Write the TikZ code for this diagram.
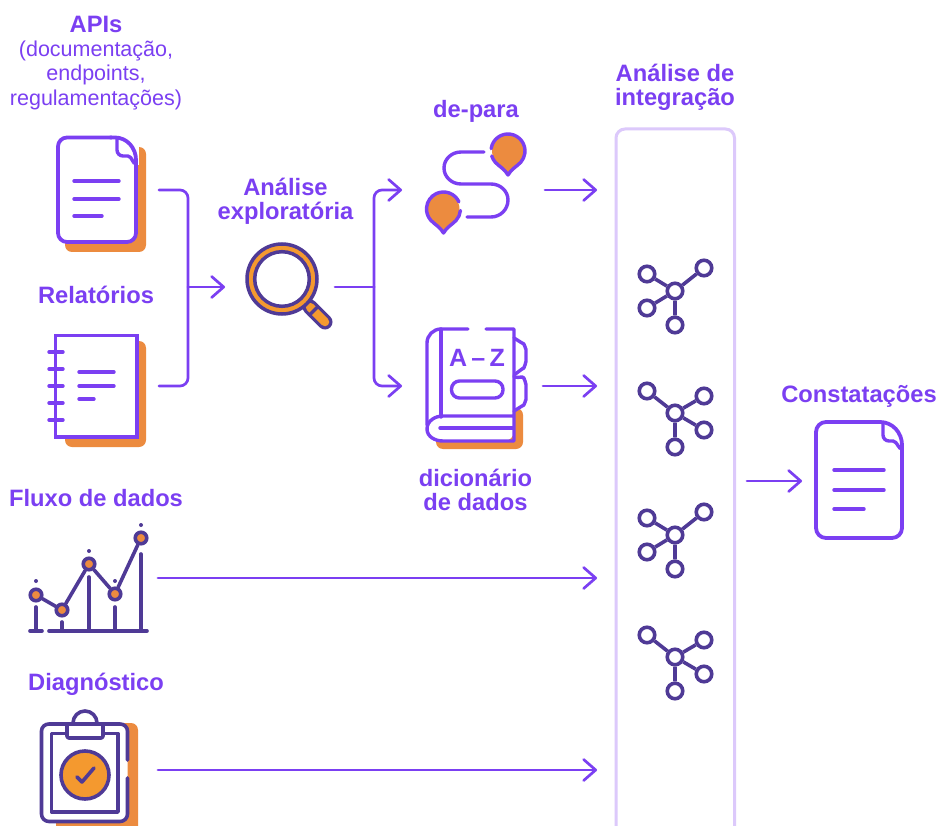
\documentclass[tikz,border=0pt]{standalone}
\usepackage{fontspec}
\setmainfont{Liberation Sans}
\usetikzlibrary{arrows.meta}
\definecolor{vio}{HTML}{7B3FF2}
\definecolor{ora}{HTML}{EC8B3F}
\definecolor{ora2}{HTML}{F4992F}
\definecolor{dark}{HTML}{4F3A96}
\definecolor{pale}{HTML}{DCC9FB}
\tikzset{
  x=1pt,y=-1pt,
  vline/.style={draw=vio,line width=3.4pt,line cap=round,line join=round},
  dline/.style={draw=dark,line width=3.6pt,line cap=round,line join=round},
  conn/.style={draw=vio,line width=2.7pt,line cap=round,line join=round,rounded corners=8pt},
  arrowc/.style={conn,-{Straight Barb[length=12pt,width=21pt,round]}},
  shadow/.style={fill=ora,rounded corners=7pt},
  head/.style={text=vio,font=\fontsize{23.7}{24}\selectfont\bfseries,align=center,inner sep=0pt},
  sub/.style={text=vio,font=\fontsize{21.5}{24.5}\selectfont,align=center,inner sep=0pt},
  netnode/.style={circle,draw=dark,line width=3.6pt,fill=white,minimum size=15.5pt,inner sep=0pt},
  netline/.style={draw=dark,line width=3.6pt},
  dot/.style={circle,fill=dark,minimum size=4pt,inner sep=0pt},
  chartpt/.style={circle,draw=dark,line width=3.6pt,fill=ora,minimum size=11.5pt,inner sep=0pt},
}
\newcommand{\netleaves}[9]{%
  \node[netnode] (#1a) at (#2+#4,#3+#5) {};
  \node[netnode] (#1b) at (#2+#6,#3+#7) {};
  \node[netnode] (#1d) at (#2+#8,#3+#9) {};
}
\newcommand{\netfinish}[3]{%
  \node[netnode] (#1e) at (#2,#3+34) {};
  \node[netnode] (#1c) at (#2,#3) {};
  \draw[netline] (#1c) -- (#1a) (#1c) -- (#1b) (#1c) -- (#1d) (#1c) -- (#1e);
}
\newcommand{\netA}[3]{\netleaves{#1}{#2}{#3}{-28}{-17}{29}{-23}{-28}{17}\netfinish{#1}{#2}{#3}}
\newcommand{\netB}[3]{\netleaves{#1}{#2}{#3}{-28}{-22}{29}{-17}{29}{17}\netfinish{#1}{#2}{#3}}
\begin{document}
\begin{tikzpicture}
\useasboundingbox (0,0) rectangle (939,826);
\fill[white] (0,0) rectangle (939,826);
\clip (0,0) rectangle (939,826);

% labels
\node[head] (lapis) at (96,24) {APIs};
\node[sub] (lapis2) at (96,75) {(documentação,\\endpoints,\\regulamentações)};
\node[head] (lrel) at (96,295) {Relatórios};
\node[head] (lana) at (285.5,201) {Análise\\exploratória};
\node[head] (ldep) at (476,111) {de-para};
\node[head] (lint) at (675,87) {Análise de\\integração};
\node[head] (ldic) at (475.5,489.5) {dicionário\\de dados};
\node[head] (lflu) at (96,498) {Fluxo de dados};
\node[head] (ldia) at (96,684) {Diagnóstico};
\node[head] (lcon) at (859,396) {Constatações};

% panel
\draw[draw=pale,line width=3pt,rounded corners=9pt] (616,832) -- (616,129) -- (734.5,129) -- (734.5,832);
\netA{na}{675}{291}
\netB{nb}{675}{413}
\netA{nc}{675}{535}
\netB{nd}{675}{657}

% APIs document
\fill[shadow] (65,147) rectangle (146,252);
\draw[vline,fill=white,line width=3.8pt,rounded corners=9pt] (58,137.5) rectangle (136,242);
\fill[white] (112,134) rectangle (139,165);
\draw[vline,line width=3.8pt] (110,137.5) -- (115,137.5) to[out=0,in=90] (136,160) -- (136,165);
\draw[vline] (117,138) -- (117,150) to[out=-90,in=180] (123,156) -- (128,156) to[out=0,in=-130] (136,163);
\draw[vline] (74,181) -- (119,181) (74,199) -- (119,199) (74,216) -- (102,216);

% Notebook
\fill[shadow] (65,341) rectangle (146,447);
\draw[vline,fill=white,line width=3.8pt,line join=miter] (55.5,335.5) rectangle (137,437);
\foreach \y in {352,369,386,403,420} \draw[vline] (49,\y) -- (63,\y);
\draw[vline] (79,372) -- (114,372) (79,386) -- (114,386) (79,399) -- (94,399);

% Chart
\node[chartpt] (c1) at (36,595) {};
\node[chartpt] (c2) at (62,610) {};
\node[chartpt] (c3) at (89,564) {};
\node[chartpt] (c4) at (115,594) {};
\node[chartpt] (c5) at (141,538) {};
\draw[netline,line cap=round] (c1) -- (c2) (c2) -- (c3) (c3) -- (c4) (c4) -- (c5);
\draw[dline] (36,607) -- (36,631) (62,622) -- (62,631) (89,577) -- (89,631) (115,607) -- (115,631) (141,554) -- (141,631);
\draw[dline] (30,631) -- (42,631) (49,631) -- (147,631);
\node[dot] (d1) at (36,581) {};
\node[dot] (d3) at (89,551) {};
\node[dot] (d4) at (115,581) {};
\node[dot] (d5) at (141,525) {};

% Clipboard
\fill[shadow] (56,723) rectangle (138,845);
\fill[white,rounded corners=7pt] (41.5,724) rectangle (127.5,821.5);
\draw[dline] (127.5,760) -- (127.5,731) to[out=90,in=0] (120,724) -- (49,724) to[out=180,in=90] (41.5,731) -- (41.5,814) to[out=-90,in=180] (49,821.5) -- (120,821.5) to[out=0,in=-90] (127.5,814) -- (127.5,778);
\draw[dline] (51.5,733.5) rectangle (118,812);
\draw[dline,line cap=butt] ([shift={(180:12pt)}]85,723) arc[start angle=180,end angle=0,radius=12pt];
\draw[dline,fill=white,rounded corners=2pt] (67,724) -- (103,724) -- (103,738) -- (67,738) -- cycle;
\draw[dline,fill=ora2] (85,775) circle[radius=24pt];
\draw[dline] (77,777) -- (82,782) -- (94,768);

% Magnifier
\draw[draw=dark,line width=15pt,line cap=round] (310,307) -- (325,322);
\draw[draw=ora2,line width=8.5pt,line cap=round] (310,307) -- (325,322);
\draw[draw=dark,line width=3.2pt] (308.5,316) -- (317,307.5);
\fill[ora2] (282,279) circle[radius=35pt];
\draw[draw=dark,line width=3.5pt] (282,279) circle[radius=35pt];
\draw[draw=dark,line width=3.5pt,fill=white] (282,279) circle[radius=27.3pt];

% de-para
\draw[vline] (484,152) -- (461,152) to[out=180,in=90] (444,168) to[out=-90,in=180] (461,184) -- (491,184) to[out=0,in=90] (508,200) to[out=-90,in=0] (491,217) -- (467,217);
\fill[ora] (508,151) circle[radius=16pt];
\fill[ora] (494,163) -- (508,175) -- (522,163) -- cycle;
\draw[vline] ([shift={(172:17pt)}]508,151) arc[start angle=172,end angle=-42,radius=17pt] to[out=-135,in=60] (508,175) to[out=120,in=-45] ([shift={(222:17pt)}]508,151) arc[start angle=222,end angle=197,radius=17pt];
\fill[ora] (443.5,209) circle[radius=16pt];
\fill[ora] (430,221) -- (443.5,233) -- (457,221) -- cycle;
\draw[vline] ([shift={(25:17pt)}]443.5,209) arc[start angle=25,end angle=222,radius=17pt] to[out=-45,in=120] (443.5,233) to[out=60,in=-135] ([shift={(-42:17pt)}]443.5,209) arc[start angle=-42,end angle=-5,radius=17pt];

% Book
\fill[shadow] (436,408) -- (523,408) -- (523,449) -- (436,449) -- cycle;
\fill[white,rounded corners=10pt] (427,329) rectangle (514,441);
\draw[vline] (468,329) -- (441,329) to[out=180,in=90] (427,343) -- (427,425);
\draw[vline] (441,329) -- (441,417);
\draw[vline] (486,329) -- (514,329) -- (514,441) -- (443,441) to[out=180,in=-90] (427,429) to[out=90,in=180] (443,416) -- (514,416);
\draw[vline] (440,428) -- (513,428);
\draw[vline] (514,338) -- (522,343) to[out=30,in=-90] (526,349) -- (526,362) to[out=90,in=-30] (522,369) -- (514,375);
\draw[vline] (514,377) to[out=10,in=-150] (522,377) to[out=30,in=-90] (526,384) -- (526,400) to[out=90,in=-30] (522,406) -- (514,411);
\draw[vline,rounded corners=8pt] (451.5,381) rectangle (503,398);
\node[text=vio,font=\fontsize{25}{25}\selectfont\bfseries,inner sep=0pt] (az) at (477,358) {A\,–\,Z};

% Constatações document
\draw[vline,fill=white,line width=3.8pt,rounded corners=10pt] (816,422) rectangle (902,538);
\fill[white] (878,419) rectangle (905,449);
\draw[vline,line width=3.8pt] (875,422) -- (880,422) to[out=0,in=90] (902,445) -- (902,452);
\draw[vline] (883,423) -- (883,435) to[out=-90,in=180] (889,441) -- (893,441) to[out=0,in=-130] (902,448);
\draw[vline] (834,470) -- (884,470) (834,490) -- (884,490) (834,509) -- (864,509);

% connector anchors
\coordinate (apisOut) at (159,190);
\coordinate (relOut) at (159,386);
\coordinate (joinA) at (188,287);
\coordinate (anaIn) at (225,287);
\coordinate (magOut) at (335,287);
\coordinate (joinB) at (374,287);
\coordinate (depIn) at (402,190);
\coordinate (dicIn) at (402,386);
\coordinate (depOut) at (545,190);
\coordinate (dicOut) at (543,386);
\coordinate (panelA) at (597,190);
\coordinate (panelB) at (597,386);
\coordinate (fluOut) at (158,578);
\coordinate (panelC) at (597,578);
\coordinate (diaOut) at (158,770);
\coordinate (panelD) at (597,770);
\coordinate (panelOut) at (747,481);
\coordinate (conIn) at (802,481);

\draw[conn] (apisOut) -| (joinA) |- (relOut);
\draw[arrowc] (joinA) -- (anaIn);
\draw[conn,rounded corners=0pt] (magOut) -- (joinB);
\draw[arrowc] (joinB) |- (depIn);
\draw[arrowc] (joinB) |- (dicIn);
\draw[arrowc] (depOut) -- (panelA);
\draw[arrowc] (dicOut) -- (panelB);
\draw[arrowc] (fluOut) -- (panelC);
\draw[arrowc] (diaOut) -- (panelD);
\draw[arrowc] (panelOut) -- (conIn);
\end{tikzpicture}
\end{document}
